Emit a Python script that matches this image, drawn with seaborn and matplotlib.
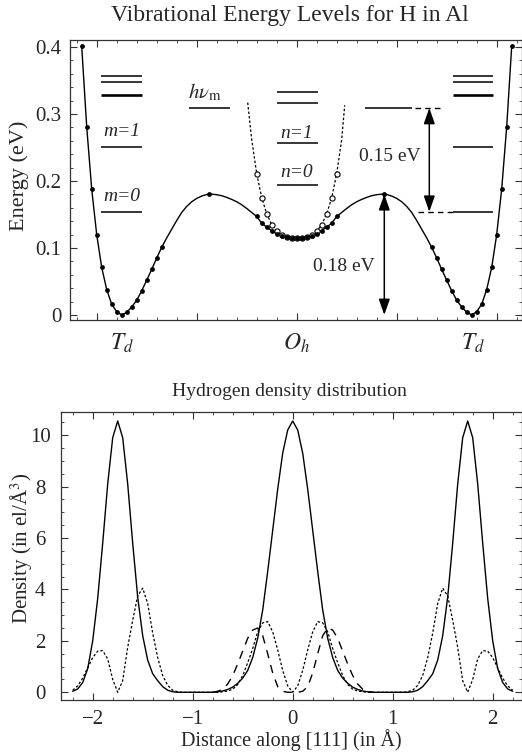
import numpy as np
import pandas as pd
import matplotlib
matplotlib.use('Agg')
import matplotlib.pyplot as plt
from matplotlib.ticker import MultipleLocator, FuncFormatter
import matplotlib.transforms as mtransforms
import seaborn as sns

# ---------------- top panel: energy along [111] (x in Angstrom) ----------------
well_l_x = [-2.15, -2.10, -2.05, -2.00, -1.95, -1.90, -1.85, -1.80, -1.75,
            -1.70, -1.65, -1.60, -1.55, -1.50, -1.45, -1.40, -1.35]
well_l_e = [0.401, 0.281, 0.188, 0.120, 0.071, 0.038, 0.016, 0.005, 0.000,
            0.004, 0.012, 0.022, 0.036, 0.052, 0.068, 0.085, 0.101]
well_r_x = [1.35, 1.40, 1.45, 1.50, 1.55, 1.60, 1.65, 1.70, 1.75,
            1.80, 1.85, 1.90, 1.95, 2.00, 2.05, 2.10, 2.15]
well_r_e = [0.101, 0.085, 0.068, 0.052, 0.036, 0.022, 0.012, 0.004, 0.000,
            0.005, 0.016, 0.038, 0.071, 0.120, 0.188, 0.281, 0.401]

barrier_l_x = [-1.30, -1.25, -1.20, -1.15, -1.10, -1.05, -1.00, -0.95, -0.90, -0.875,
               -0.85, -0.80, -0.75, -0.70, -0.65, -0.60, -0.55, -0.50, -0.45]
barrier_l_e = [0.115, 0.128, 0.141, 0.153, 0.162, 0.169, 0.174, 0.1775, 0.1798, 0.1803,
               0.1803, 0.1795, 0.178, 0.1755, 0.1725, 0.169, 0.1645, 0.159, 0.153]
barrier_r_x = [0.45, 0.50, 0.55, 0.60, 0.65, 0.70, 0.75, 0.80, 0.85, 0.875,
               0.90, 0.95, 1.00, 1.05, 1.10, 1.15, 1.20, 1.25, 1.30]
barrier_r_e = [0.153, 0.159, 0.1645, 0.169, 0.1725, 0.1755, 0.178, 0.1795, 0.1803, 0.1803,
               0.1798, 0.1775, 0.174, 0.169, 0.162, 0.153, 0.141, 0.128, 0.115]

oh_x = [-0.40, -0.35, -0.30, -0.25, -0.20, -0.15, -0.10, -0.05, 0.00,
        0.05, 0.10, 0.15, 0.20, 0.25, 0.30, 0.35, 0.40]
oh_e = [0.147, 0.137, 0.131, 0.126, 0.121, 0.118, 0.116, 0.115, 0.115,
        0.115, 0.116, 0.118, 0.121, 0.126, 0.131, 0.137, 0.147]
saddle_x = [-0.875, 0.875]
saddle_e = [0.1803, 0.1803]

# harmonic fit around Oh (open circles + dotted line)
harm_e = [0.211, 0.175, 0.151, 0.135, 0.125, 0.119, 0.116, 0.115, 0.115,
          0.115, 0.116, 0.119, 0.125, 0.135, 0.151, 0.175, 0.211]
harm_end_x = [-0.49, -0.45, 0.45, 0.48]
harm_end_e = [0.317, 0.262, 0.262, 0.313]

# vibrational levels (eV)
td_levels = [0.154, 0.250, 0.329, 0.347, 0.356]
oh_levels = [0.194, 0.257, 0.316, 0.333]
hv_level = 0.309

# ---------------- bottom panel: hydrogen density ----------------
dens_x = np.round(np.arange(-2.2, 2.2001, 0.05), 2)
dens_solid = [0.04, 0.13, 0.38, 0.92, 2.00, 3.65, 5.80, 8.10, 9.90, 10.55,
              9.90, 8.10, 5.80, 3.70, 2.20, 1.25, 0.72, 0.45, 0.22, 0.08,
              0.02, 0.00, 0.00, 0.00, 0.00, 0.00, 0.00, 0.00, 0.00, 0.02,
              0.05, 0.11, 0.20, 0.35, 0.55, 0.85, 1.35, 2.10, 3.20, 4.70,
              6.30, 7.90, 9.30, 10.20, 10.55, 10.20, 9.30, 7.90, 6.30, 4.70,
              3.20, 2.10, 1.35, 0.85, 0.55, 0.35, 0.20, 0.11, 0.05, 0.02,
              0.00, 0.00, 0.00, 0.00, 0.00, 0.00, 0.00, 0.00, 0.02, 0.08,
              0.22, 0.45, 0.72, 1.25, 2.20, 3.70, 5.80, 8.10, 9.90, 10.55,
              9.90, 8.10, 5.80, 3.65, 2.00, 0.92, 0.38, 0.13, 0.04]
dens_dotted = [0.08, 0.25, 0.55, 0.95, 1.35, 1.60, 1.62, 1.30, 0.50, 0.00,
               0.45, 1.75, 2.80, 3.75, 4.05, 3.45, 2.30, 1.35, 0.65, 0.27,
               0.08, 0.02, 0.00, 0.00, 0.00, 0.00, 0.00, 0.00, 0.00, 0.00,
               0.02, 0.05, 0.12, 0.30, 0.65, 1.15, 1.70, 2.35, 2.70, 2.75,
               2.35, 1.65, 0.85, 0.25, 0.00, 0.25, 0.85, 1.65, 2.35, 2.75,
               2.70, 2.35, 1.70, 1.15, 0.65, 0.30, 0.12, 0.05, 0.02, 0.00,
               0.00, 0.00, 0.00, 0.00, 0.00, 0.00, 0.00, 0.02, 0.08, 0.27,
               0.65, 1.35, 2.30, 3.45, 4.05, 3.75, 2.80, 1.75, 0.45, 0.00,
               0.50, 1.30, 1.62, 1.60, 1.35, 0.95, 0.55, 0.25, 0.08]
dash_x = np.round(np.arange(-0.8, 0.8001, 0.05), 2)
dens_dashed = [0.00, 0.04, 0.12, 0.32, 0.65, 1.10, 1.60, 2.10, 2.42, 2.50,
               2.20, 1.50, 0.75, 0.22, 0.04, 0.00, 0.00, 0.00, 0.04, 0.22,
               0.75, 1.50, 2.20, 2.50, 2.42, 2.10, 1.60, 1.10, 0.65, 0.32,
               0.12, 0.04, 0.00]

# ---------------- style ----------------
sns.set_theme(style='ticks')
plt.rcParams['font.family'] = ['Liberation Serif', 'DejaVu Serif']
plt.rcParams['mathtext.fontset'] = 'stix'
plt.rcParams.update({
    'xtick.direction': 'in', 'ytick.direction': 'in',
    'xtick.top': True, 'ytick.right': True,
    'axes.linewidth': 0.9, 'axes.edgecolor': '#333333',
})

fig = plt.figure(figsize=(5.22, 7.53), dpi=100)
ax1 = fig.add_axes([70 / 522, 1 - 320 / 753, 452 / 522, 280 / 753])
ax2 = fig.add_axes([61 / 522, 1 - 700 / 753, 461 / 522, 288 / 753])

# ---- top panel ----
line_df = pd.DataFrame({
    'x': well_l_x + barrier_l_x + oh_x + barrier_r_x + well_r_x,
    'e': well_l_e + barrier_l_e + oh_e + barrier_r_e + well_r_e,
})
sns.lineplot(data=line_df, x='x', y='e', ax=ax1, color='black', lw=1.0,
             estimator=None, sort=True)

harm_df = pd.DataFrame({'x': harm_end_x[:2] + oh_x + harm_end_x[2:],
                        'e': harm_end_e[:2] + harm_e + harm_end_e[2:]})
sns.lineplot(data=harm_df, x='x', y='e', ax=ax1, color='black', lw=0.9,
             linestyle=(0, (2, 1.6)), estimator=None, sort=True)

sns.scatterplot(x=oh_x, y=harm_e, ax=ax1, s=14, facecolor='white',
                edgecolor='black', linewidth=0.8, zorder=3)
pts_x = well_l_x + saddle_x + oh_x + well_r_x
pts_e = well_l_e + saddle_e + oh_e + well_r_e
sns.scatterplot(x=pts_x, y=pts_e, ax=ax1, s=12, color='black',
                edgecolor='black', linewidth=0, zorder=4)

# level lines
for i, e in enumerate(td_levels):
    w = 1.9 if i == 2 else 1.1
    ax1.hlines(e, -1.957, -1.55, color='black', lw=w)
    ax1.hlines(e, 1.566, 1.966, color='black', lw=w)
for e in oh_levels:
    ax1.hlines(e, -0.194, 0.21, color='black', lw=1.1)
ax1.hlines(hv_level, -1.074, -0.667, color='black', lw=1.1)
ax1.hlines(hv_level, 0.683, 1.15, color='black', lw=1.1)
ax1.hlines(hv_level, 1.183, 1.433, color='black', lw=1.0, linestyle=(0, (4, 3)))
ax1.hlines(td_levels[0], 1.216, 1.566, color='black', lw=1.0, linestyle=(0, (4, 3)))

arrow = dict(arrowstyle='<|-|>,head_length=0.8,head_width=0.28', color='black',
             lw=1.1, mutation_scale=12, shrinkA=0, shrinkB=0)
ax1.annotate('', xy=(0.876, 0.0), xytext=(0.876, saddle_e[1]), arrowprops=arrow)
ax1.annotate('', xy=(1.326, td_levels[0]), xytext=(1.326, hv_level), arrowprops=arrow)

ax1.text(0.93, 0.236, '0.15 eV', ha='center', va='center', fontsize=14)
ax1.text(0.476, 0.072, '0.18 eV', ha='center', va='center', fontsize=14)
ax1.text(-1.75, 0.274, 'm=1', ha='center', va='center', fontsize=14, style='italic')
ax1.text(-1.75, 0.177, 'm=0', ha='center', va='center', fontsize=14, style='italic')
ax1.text(0.0, 0.271, 'n=1', ha='center', va='center', fontsize=14, style='italic')
ax1.text(0.0, 0.213, 'n=0', ha='center', va='center', fontsize=14, style='italic')
ax1.text(-0.92, 0.332, r'$h\nu_{\mathrm{m}}$', ha='center', va='center', fontsize=15)

trans = mtransforms.blended_transform_factory(ax1.transData, ax1.transAxes)
for xs, lab in [(-1.75, r'$T_d$'), (0.0, r'$O_h$'), (1.76, r'$T_d$')]:
    ax1.text(xs, -0.085, lab, transform=trans, ha='center', va='center', fontsize=17)

ax1.set_xlim(-2.267, 2.253)
ax1.set_ylim(-0.0075, 0.4104)
ax1.xaxis.set_major_locator(MultipleLocator(1))
ax1.xaxis.set_minor_locator(MultipleLocator(0.2))
ax1.yaxis.set_major_locator(MultipleLocator(0.1))
ax1.yaxis.set_minor_locator(MultipleLocator(0.02))
ax1.set_xticklabels([])
ax1.yaxis.set_major_formatter(FuncFormatter(lambda v, _: '0' if abs(v) < 1e-9 else f'{v:.1f}'))
ax1.tick_params(which='both', direction='in', top=True, right=True, color='#333333')
ax1.tick_params(which='major', length=5, width=0.8, labelsize=15, pad=6)
ax1.tick_params(which='minor', length=2.5, width=0.6)
ax1.set_xlabel('')
ax1.set_ylabel('')
fig.text(19 / 522, 1 - 176 / 753, 'Energy (eV)', rotation=90, ha='center',
         va='center', fontsize=16)
fig.text(290 / 522, 1 - 16 / 753, 'Vibrational Energy Levels for H in Al',
         ha='center', va='center', fontsize=17)

# ---- bottom panel ----
sns.lineplot(x=dens_x, y=dens_solid, ax=ax2, color='black', lw=1.0,
             estimator=None, sort=True)
sns.lineplot(x=dens_x, y=dens_dotted, ax=ax2, color='black', lw=0.9,
             linestyle=(0, (2, 1.6)), estimator=None, sort=True)
sns.lineplot(x=dash_x, y=dens_dashed, ax=ax2, color='black', lw=1.0,
             linestyle=(0, (6, 5)), estimator=None, sort=True)

ax2.set_xlim(-2.317, 2.293)
ax2.set_ylim(-0.3, 10.9)
ax2.xaxis.set_major_locator(MultipleLocator(1))
ax2.xaxis.set_minor_locator(MultipleLocator(0.2))
ax2.yaxis.set_major_locator(MultipleLocator(2))
ax2.yaxis.set_minor_locator(MultipleLocator(0.5))
ax2.tick_params(which='both', direction='in', top=True, right=True, color='#333333')
ax2.tick_params(which='major', length=5, width=0.8, labelsize=15)
ax2.tick_params(axis='x', which='major', pad=7)
ax2.tick_params(axis='y', which='major', pad=15)
ax2.tick_params(which='minor', length=2.5, width=0.6)
for lab in ax2.get_yticklabels():
    lab.set_horizontalalignment('center')
ax2.set_xlabel('')
ax2.set_ylabel('')
fig.text(291 / 522, 1 - 740 / 753, 'Distance along [111] (in Å)', ha='center',
         va='center', fontsize=14.5)
fig.text(22 / 522, 0.272, 'Density (in el/Å$^3$)', rotation=90, ha='center',
         va='center', fontsize=15)
fig.text(289 / 522, 1 - 391 / 753, 'Hydrogen density distribution',
         ha='center', va='center', fontsize=14)

fig.savefig('out.png', dpi=100)
